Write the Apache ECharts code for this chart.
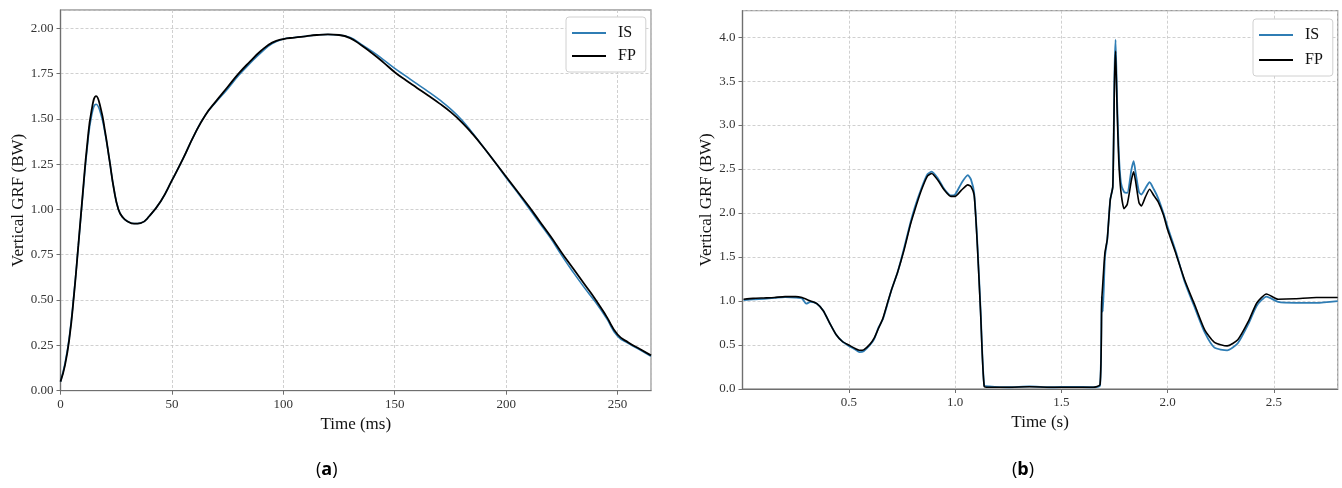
<!DOCTYPE html>
<html><head><meta charset="utf-8">
<script src="https://cdn.jsdelivr.net/npm/echarts@6/dist/echarts.min.js"></script>
<style>html,body{margin:0;padding:0;background:#fff}#c{width:1342px;height:488px}</style>
</head><body><div id="c"></div>
<script>
// ---- Panel (a): time in ms ----
const timeA = [0,2,4,6,8,10,12,14,16,18,20,22,24,26,28,30,33,36,40,45,50,55,60,65,70,75,80,85,90,95,100,105,110,115,120,125,130,135,140,145,150,155,160,165,170,175,180,185,190,195,200,205,210,215,220,225,230,235,240,245,250,255,260,265];
const fpA = [0.05,0.14,0.29,0.52,0.80,1.09,1.36,1.55,1.625,1.56,1.43,1.27,1.11,1.00,0.955,0.935,0.922,0.925,0.965,1.045,1.16,1.28,1.41,1.52,1.60,1.675,1.75,1.815,1.875,1.92,1.94,1.948,1.955,1.962,1.965,1.962,1.945,1.905,1.86,1.81,1.757,1.712,1.67,1.628,1.585,1.538,1.482,1.415,1.34,1.26,1.18,1.10,1.02,0.935,0.85,0.76,0.675,0.59,0.505,0.41,0.31,0.265,0.23,0.195];
const isA = [0.05,0.15,0.30,0.53,0.80,1.08,1.34,1.52,1.58,1.53,1.42,1.27,1.11,1.00,0.955,0.935,0.922,0.925,0.965,1.045,1.16,1.28,1.41,1.52,1.595,1.665,1.74,1.805,1.865,1.915,1.94,1.948,1.955,1.962,1.965,1.962,1.948,1.91,1.87,1.825,1.778,1.735,1.692,1.65,1.605,1.555,1.495,1.42,1.34,1.26,1.175,1.095,1.01,0.925,0.84,0.745,0.655,0.57,0.49,0.40,0.30,0.26,0.225,0.19];
const xTicksA = [0,50,100,150,200,250];
const yTicksA = [0,0.25,0.5,0.75,1.0,1.25,1.5,1.75,2.0];

// ---- Panel (b): time in s ----
const timeB = [0.005,0.05,0.10,0.15,0.20,0.25,0.28,0.30,0.32,0.35,0.38,0.41,0.44,0.47,0.50,0.53,0.55,0.57,0.60,0.62,0.64,0.66,0.68,0.70,0.73,0.76,0.79,0.81,0.84,0.87,0.89,0.92,0.95,0.98,1.00,1.03,1.06,1.075,1.09,1.105,1.12,1.137,1.16,1.25,1.35,1.45,1.55,1.65,1.682,1.69,1.695,1.705,1.716,1.73,1.742,1.75,1.755,1.762,1.77,1.78,1.795,1.81,1.83,1.84,1.85,1.865,1.876,1.895,1.915,1.935,1.955,1.98,2.00,2.04,2.08,2.13,2.175,2.22,2.28,2.33,2.38,2.42,2.465,2.52,2.60,2.70,2.80];
const fpB = [1.02,1.03,1.035,1.04,1.05,1.05,1.04,1.02,1.00,0.97,0.89,0.75,0.62,0.54,0.50,0.46,0.44,0.445,0.51,0.58,0.69,0.80,0.96,1.12,1.33,1.58,1.87,2.03,2.25,2.42,2.45,2.37,2.26,2.19,2.19,2.26,2.32,2.30,2.20,1.62,0.87,0.03,0.02,0.02,0.025,0.02,0.02,0.02,0.05,1.0,1.2,1.55,1.70,2.15,2.30,3.5,3.84,3.2,2.6,2.25,2.05,2.10,2.38,2.47,2.35,2.12,2.08,2.18,2.27,2.20,2.13,1.98,1.81,1.53,1.24,0.94,0.67,0.53,0.49,0.56,0.77,0.98,1.08,1.02,1.025,1.04,1.04];
const isB = [1.01,1.02,1.025,1.035,1.045,1.04,1.03,0.97,0.99,0.97,0.89,0.75,0.62,0.54,0.49,0.45,0.42,0.43,0.50,0.57,0.70,0.79,0.95,1.12,1.33,1.60,1.89,2.06,2.27,2.44,2.47,2.39,2.27,2.20,2.21,2.34,2.43,2.38,2.22,1.65,0.90,0.04,0.03,0.02,0.03,0.02,0.025,0.02,0.04,1.05,0.88,1.50,1.70,2.15,2.30,3.6,3.97,3.3,2.7,2.35,2.24,2.23,2.50,2.59,2.45,2.24,2.21,2.28,2.35,2.27,2.17,2.00,1.84,1.55,1.22,0.91,0.64,0.47,0.44,0.52,0.74,0.95,1.05,0.99,0.98,0.98,1.00];
const xTicksB = [0,0.5,1.0,1.5,2.0,2.5];
const yTicksB = [0,0.5,1.0,1.5,2.0,2.5,3.0,3.5,4.0];

const seriesNames = ['IS','FP'];
const captions = ['a','b'];

const BLUE = '#2f7db4', BLACK = '#000000';
const SERIF = '"Liberation Serif","DejaVu Serif",serif';

const chart = echarts.init(document.getElementById('c'), null, {renderer:'canvas'});

function axisCommon(grid, ticks, max, name, gap, fmt, hideMin){
  return {
    type:'value', gridIndex:grid, min:ticks[0], max:max, interval:ticks[1]-ticks[0],
    name:name, nameLocation:'middle', nameGap:gap,
    nameTextStyle:{fontFamily:SERIF, fontSize:17, color:'#111'},
    axisLine:{show:true, onZero:false, lineStyle:{color:'#6f6f6f', width:1.2}},
    axisTick:{show:true, length:4, lineStyle:{color:'#6f6f6f'}},
    axisLabel:{fontFamily:SERIF, fontSize:13, color:'#333', margin:7, showMaxLabel:false, showMinLabel:!hideMin, formatter:fmt},
    splitLine:{show:true, lineStyle:{color:'#c4c4c4', type:[3,2], width:0.8}}
  };
}
function legendCfg(left, top, gap){
  return {
    left:left, top:top, orient:'vertical', data:seriesNames,
    itemWidth:34, itemHeight:2, itemGap:gap,
    backgroundColor:'#fff', borderColor:'#d0d0d0', borderWidth:1, borderRadius:3,
    padding:[8,10,8,6],
    textStyle:{fontFamily:SERIF, fontSize:16, color:'#111', padding:[0,0,0,7]},
    icon:'rect'
  };
}
const pairs = (t, v) => t.map((x,i)=>[x, v[i]]);
const capStyle = (c) => ({text:'({b|'+c+'})', font:'18px "Open Sans", sans-serif', fill:'#000',
  rich:{b:{fontWeight:'bold', fontSize:18, fontFamily:'"Open Sans", sans-serif'}}});

chart.setOption({
  animation:false,
  grid:[
    {left:60.5, top:10, width:590.5, height:380.7, show:true, borderColor:'#9a9a9a', borderWidth:1.3},
    {left:742.5, top:10.7, width:595.2, height:378.3, show:true, borderColor:'#9a9a9a', borderWidth:1.3}
  ],
  xAxis:[
    axisCommon(0, xTicksA, 265, 'Time (ms)', 22, v=>String(v), false),
    axisCommon(1, xTicksB, 2.8, 'Time (s)', 23, v=>v.toFixed(1), true)
  ],
  yAxis:[
    axisCommon(0, yTicksA, 2.1, 'Vertical GRF (BW)', 33, v=>v.toFixed(2), false),
    axisCommon(1, yTicksB, 4.3, 'Vertical GRF (BW)', 25, v=>v.toFixed(1), false)
  ],
  legend:[ legendCfg(566, 17, 7), legendCfg(1253, 19, 9) ],
  series:[
    {name:seriesNames[0], type:'line', xAxisIndex:0, yAxisIndex:0, data:pairs(timeA,isA), showSymbol:false, smooth:0.5, lineStyle:{color:BLUE, width:1.6}, itemStyle:{color:BLUE}},
    {name:seriesNames[1], type:'line', xAxisIndex:0, yAxisIndex:0, data:pairs(timeA,fpA), showSymbol:false, smooth:0.5, lineStyle:{color:BLACK, width:1.8}, itemStyle:{color:BLACK}},
    {name:seriesNames[0], type:'line', xAxisIndex:1, yAxisIndex:1, data:pairs(timeB,isB), showSymbol:false, smooth:0.2, lineStyle:{color:BLUE, width:1.8}, itemStyle:{color:BLUE}},
    {name:seriesNames[1], type:'line', xAxisIndex:1, yAxisIndex:1, data:pairs(timeB,fpB), showSymbol:false, smooth:0.2, lineStyle:{color:BLACK, width:1.6}, itemStyle:{color:BLACK}}
  ],
  graphic:[
    {type:'text', left:316, top:461, style:capStyle(captions[0])},
    {type:'text', left:1012, top:461, style:capStyle(captions[1])}
  ]
});
</script></body></html>
